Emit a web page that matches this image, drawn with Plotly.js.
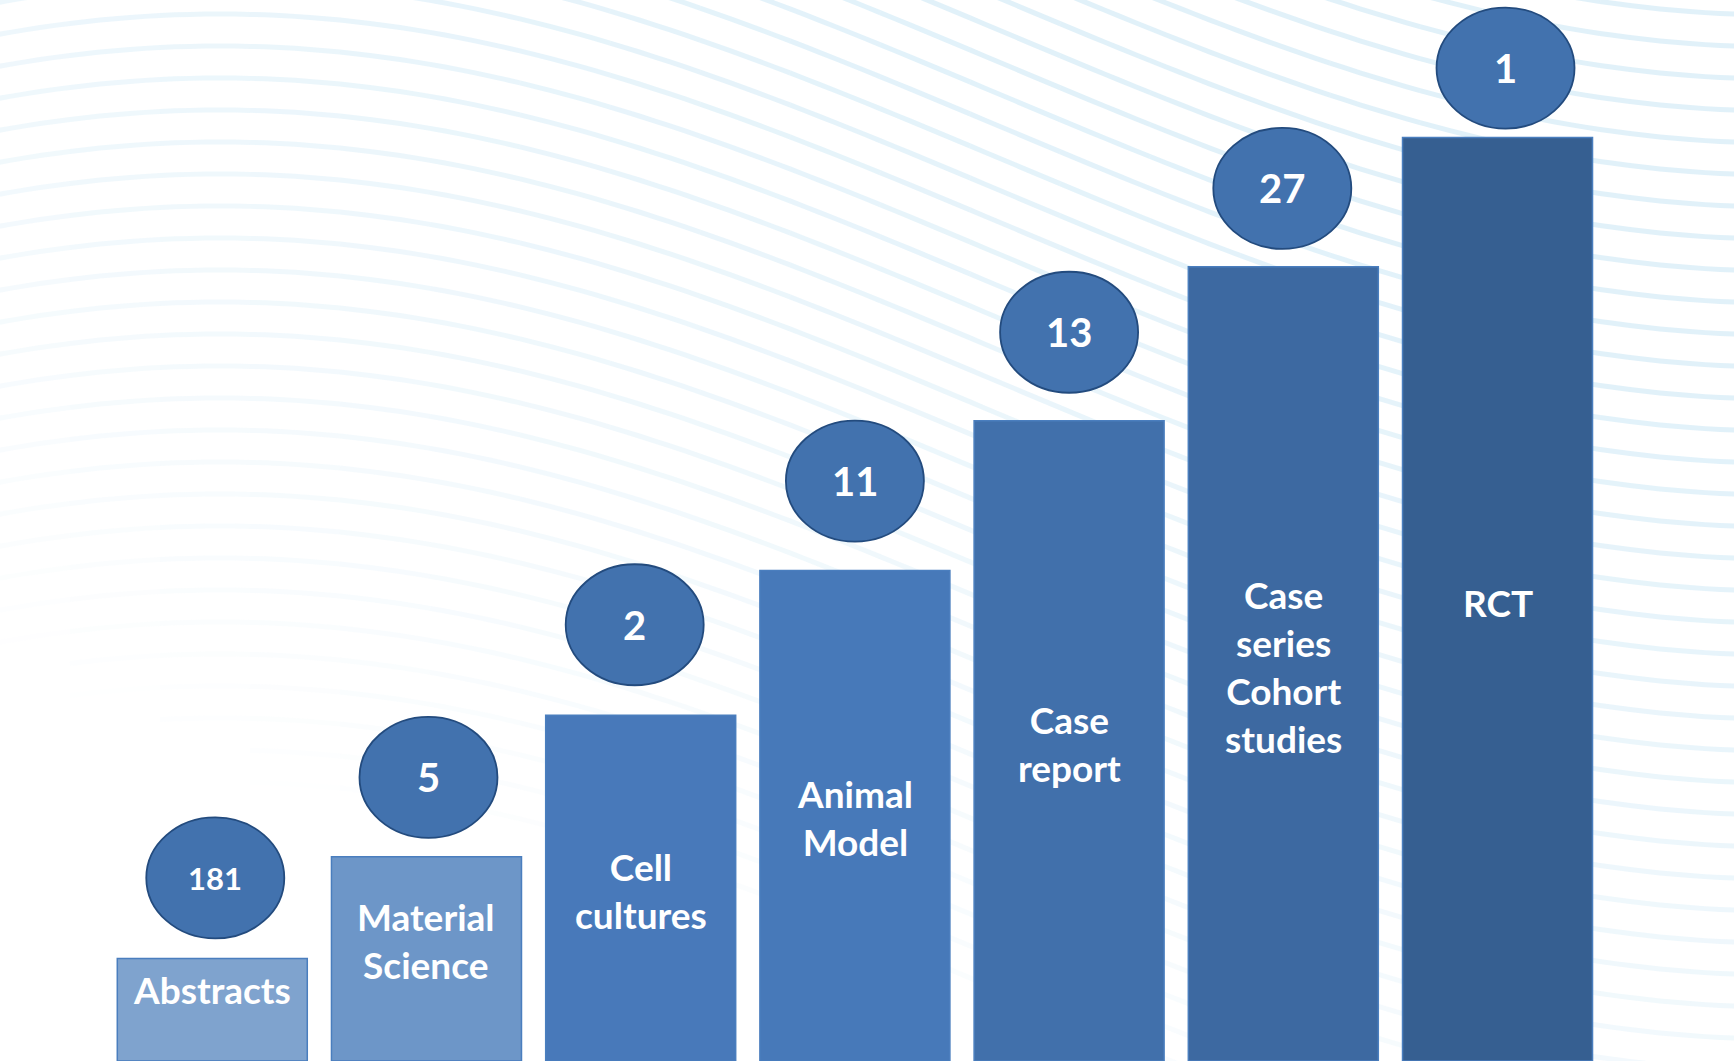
<!DOCTYPE html>
<html>
<head>
<meta charset="utf-8">
<script src="https://cdn.plot.ly/plotly-3.0.1.min.js"></script>
<style>
  html, body { margin: 0; padding: 0; background: #ffffff; }
  #chart { width: 1734px; height: 1061px; }
</style>
</head>
<body>
<div id="chart"></div>
<script>
// ---- data ----
const categories = ["Abstracts", "Material<br>Science", "Cell<br>cultures", "Animal<br>Model", "Case<br>report", "Case<br>series<br>Cohort<br>studies", "RCT"];
const studyCounts = [181, 5, 2, 11, 13, 27, 1];
const barHeights = [1.0, 1.99, 3.37, 4.78, 6.24, 7.74, 9.0];

// ---- style ----
const barColors = ["#7FA3CE", "#6D96C8", "#4879BA", "#4779B9", "#4170AB", "#3D69A1", "#365F91"];
const countFontSizes = [31, 40, 40, 40, 40, 40, 40];
const labelNudgePx = [20, 18, -2, -2, -3, -3, -3];
const ellipseGapPx = [20, 19, 30, 29, 28, 18, 9];
const ellipseShiftPx = [3, 2, -6, 0, 0, -1, 8];

const W = 1734, H = 1061;
const xRange = [-0.991, 7.104];
const yRange = [0, 10.341];
const pxPerY = H / (yRange[1] - yRange[0]);
const pxPerX = W / (xRange[1] - xRange[0]);

const idx = categories.map((c, i) => i);

const ellW = 138 / pxPerX, ellH = 121 / pxPerY;

const shapes = [];

// background wave lines (decoration)
const clamp = v => Math.max(0, Math.min(1, v));
const wave = px => 417 * (1 - Math.cos(Math.PI * (px - 220) / 1560)) / 2;
for (let k = -15; k <= 24; k++) {
  const c = k * 32 + 14;
  const step = 90;
  for (let px = -20; px < W + 20; px += step) {
    let d = "";
    const sub = 6;
    for (let s = 0; s <= sub; s++) {
      const x = px + step * s / sub;
      const y = c + wave(x);
      d += (d ? " L" : "M") + (x / W).toFixed(5) + "," + (1 - y / H).toFixed(5);
    }
    const mx = px + step / 2, my = c + wave(mx);
    const a = 0.5 * clamp((mx / W) * 0.8 + (1 - my / H) * 0.95 - 0.35);
    if (a < 0.015) continue;
    shapes.push({
      type: "path", xref: "paper", yref: "paper", path: d, layer: "below",
      line: { color: "rgba(196,228,244," + a.toFixed(3) + ")", width: 5 }
    });
  }
}

// ellipses
idx.forEach(i => {
  const y0 = barHeights[i] + ellipseGapPx[i] / pxPerY;
  const xc = i + ellipseShiftPx[i] / pxPerX;
  shapes.push({
    type: "circle", xref: "x", yref: "y",
    x0: xc - ellW / 2, x1: xc + ellW / 2, y0: y0, y1: y0 + ellH,
    fillcolor: "#4272AE", line: { color: "#234B7E", width: 1.8 }, layer: "above"
  });
});

const annotations = [];
idx.forEach(i => {
  const xc = i + ellipseShiftPx[i] / pxPerX;
  annotations.push({
    x: xc, y: barHeights[i] + ellipseGapPx[i] / pxPerY + ellH / 2, xref: "x", yref: "y",
    text: String(studyCounts[i]), showarrow: false,
    font: { family: "Lato, 'Open Sans', sans-serif", size: countFontSizes[i], color: "#ffffff", weight: 700 },
    xanchor: "center", yanchor: "middle"
  });
  annotations.push({
    x: i, y: barHeights[i] / 2 + labelNudgePx[i] / pxPerY, xref: "x", yref: "y",
    text: categories[i], showarrow: false,
    font: { family: "Lato, 'Open Sans', sans-serif", size: 37, color: "#ffffff", weight: 700 },
    xanchor: "center", yanchor: "middle", align: "center"
  });
});

const trace = {
  type: "bar",
  x: idx,
  y: barHeights,
  marker: { color: barColors, line: { color: "#4A7EBE", width: 1.5 } },
  hoverinfo: "skip",
  showlegend: false
};

const layout = {
  width: W, height: H,
  margin: { l: 0, r: 0, t: 0, b: 0 },
  paper_bgcolor: "#ffffff",
  plot_bgcolor: "rgba(0,0,0,0)",
  bargap: 0.113,
  xaxis: { range: xRange, visible: false, fixedrange: true },
  yaxis: { range: yRange, visible: false, fixedrange: true },
  shapes: shapes,
  annotations: annotations
};

Plotly.newPlot("chart", [trace], layout, { displayModeBar: false, staticPlot: true });
</script>
</body>
</html>
